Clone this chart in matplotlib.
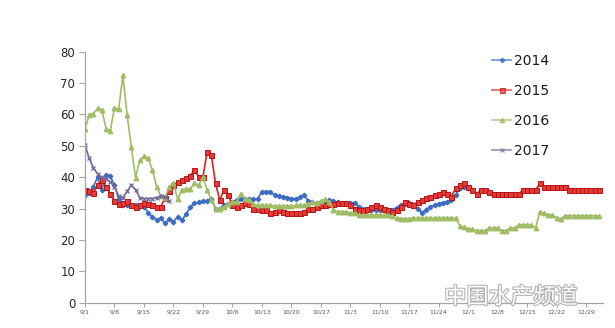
import matplotlib
matplotlib.use('Agg')
from matplotlib import pyplot as plt
import matplotlib.patheffects as pe

# one value per day starting 9/1
tick_labels = ['9/1', '9/8', '9/15', '9/22', '9/29', '10/6', '10/13', '10/20', '10/27',
               '11/3', '11/10', '11/17', '11/24', '12/1', '12/8', '12/15', '12/22', '12/29']

s2014 = [34.3, 35, 37, 40, 36, 40.7, 40.3, 37.5, 33, 31,
         31, 31, 31, 30.8, 30.5, 28.7, 27.4, 26.3, 26.9, 25.3,
         26.7, 25.8, 27.4, 26.3, 28.2, 30.5, 31.7, 32, 32.3, 32.5,
         33.2, 30, 30, 31, 31.5, 32.2, 32.7, 33.2, 33.2, 33,
         33, 33.2, 35.4, 35.4, 35.4, 34.3, 34, 33.8, 33.5, 33.2,
         33.2, 33.6, 34.3, 32.5, 32, 31.7, 31.7, 32, 32.7, 32.3,
         32, 31.9, 31.9, 31.9, 31.9, 30.5, 30, 29.5, 29.5, 29.5,
         29.5, 29.5, 29.5, 29.5, 30.3, 31.1, 31.5, 31.7, 31.1, 30,
         28.7, 29.7, 30.6, 31.1, 31.6, 31.9, 32.2, 32.7, 34.3, 36.4,
         37, 36.4, 36]

s2015 = [35.9, 35.5, 35, 37.5, 39, 37, 34.8, 32.5, 31.5, 31.8,
         32.5, 31.1, 30.6, 31, 31.7, 31.5, 31, 30.6, 30.6, 33.5,
         35.5, 37.5, 38.5, 39, 39.9, 40.5, 42.3, 40.1, 40.1, 48.1,
         47, 38, 32.7, 35.9, 34.3, 31.1, 30.6, 31.1, 31.7, 31.5,
         30, 30, 29.5, 29.5, 28.5, 29, 29.5, 29, 28.5, 28.5,
         28.5, 28.5, 29, 30, 30, 30.6, 31, 31.1, 31.4, 31.6,
         31.7, 31.8, 31.9, 31, 30, 29.5, 29.7, 30, 30.5, 31.1,
         30.5, 30, 29.5, 29, 29.5, 30.6, 32.2, 31.6, 31.1, 32.2,
         32.7, 33.3, 33.8, 34.3, 34.8, 35.4, 34.8, 33.8, 36.4, 37.5,
         38.3, 37, 35.9, 34.8, 35.9, 35.9, 35.4, 34.8, 34.8, 34.8,
         34.8, 34.8, 34.8, 34.8, 35.9, 35.9, 35.9, 35.9, 38, 37,
         37, 37, 37, 37, 37, 35.9, 35.9, 35.9, 35.9, 35.9,
         35.9, 35.9, 35.9]

s2016 = [55.5, 59.8, 60.3, 61.9, 61.4, 55.5, 54.8, 62.1, 61.7, 72.5,
         59.8, 49.7, 39.9, 45.5, 46.7, 46, 42.3, 37, 34, 33.5,
         37, 38, 33, 35.9, 36.2, 36.2, 38, 37.5, 40, 35.9,
         32.7, 30, 30, 30.6, 31.5, 32, 32.2, 34.8, 33.2, 32.7,
         31.5, 31, 31, 31, 31, 30.8, 30.8, 30.8, 30.8, 30.8,
         31, 31, 31, 31.5, 32, 31.8, 32.5, 33, 32, 29.5,
         29, 29, 29, 28.5, 28.5, 28, 28, 28, 28, 28,
         28, 28, 28, 27.5, 27, 26.8, 26.8, 26.8, 27, 27,
         27, 27, 27, 27, 27, 27, 27, 27, 27, 24.5,
         24, 23.5, 23.5, 23, 23, 23, 23.8, 23.8, 23.8, 23,
         23, 23.8, 23.8, 24.8, 24.8, 24.8, 24.8, 23.8, 29, 28.5,
         28, 28, 27, 26.7, 27.7, 27.7, 27.7, 27.7, 27.7, 27.7,
         27.7, 27.7, 27.7]

s2017 = [50.2, 46, 43, 41, 40, 39.5, 38.5, 37, 34, 33.5,
         35.5, 37.5, 36, 33.5, 33.2, 33.2, 33.2, 33.5, 34, 33.8, 32.5]

series = [
    ('2014', s2014, dict(color='#3d6cc4', marker='D', markersize=2.3)),
    ('2015', s2015, dict(color='#dc2323', marker='s', markersize=3.6,
                         markerfacecolor='#e63a36', markeredgecolor='#b41414', markeredgewidth=0.7)),
    ('2016', s2016, dict(color='#a0bd66', marker='^', markersize=3.2)),
    ('2017', s2017, dict(color='#76699a', marker='x', markersize=2.8, markeredgewidth=0.9)),
]

fig = plt.figure(figsize=(6.15, 3.28), dpi=100)
ax = fig.add_axes([85 / 615, 1 - 302.7 / 328, 518 / 615, 251 / 328])

for name, values, style in series:
    ax.plot(range(len(values)), values, linewidth=1.2, label=name, **style)

ax.set_xlim(0, 123)
ax.set_ylim(0, 80)
ax.set_yticks(range(0, 81, 10))
ax.set_xticks(range(0, 120, 7))
ax.set_xticklabels(tick_labels)

for side in ['top', 'right']:
    ax.spines[side].set_visible(False)
for side in ['left', 'bottom']:
    ax.spines[side].set_color('#a6a6a6')
    ax.spines[side].set_linewidth(0.9)

ax.tick_params(axis='y', labelsize=8.5, colors='#a6a6a6', labelcolor='#262626', length=4, pad=3)
ax.tick_params(axis='x', labelsize=4.5, colors='#a6a6a6', labelcolor='#595959', length=3, pad=2)

leg = ax.legend(loc='upper left', bbox_to_anchor=(492 / 615, 1 - 54 / 328), bbox_transform=fig.transFigure,
                frameon=False, fontsize=10, handlelength=1.4, handletextpad=0.15,
                labelspacing=1.15, borderpad=0, borderaxespad=0)
for line in leg.get_lines():
    line.set_alpha(0.75)
for text in leg.get_texts():
    text.set_color('#1a1a1a')

# watermark, drawn behind the axis labels
fig.text(511 / 615, 1 - 297 / 328, '中国水产频道', family=['Noto Sans CJK SC', 'DejaVu Sans'],
         fontsize=16, color='white', ha='center', va='center', zorder=0,
         path_effects=[pe.withStroke(linewidth=1.6, foreground='#b4b4b4')])

plt.savefig('out.png', dpi=100)
plt.close()
